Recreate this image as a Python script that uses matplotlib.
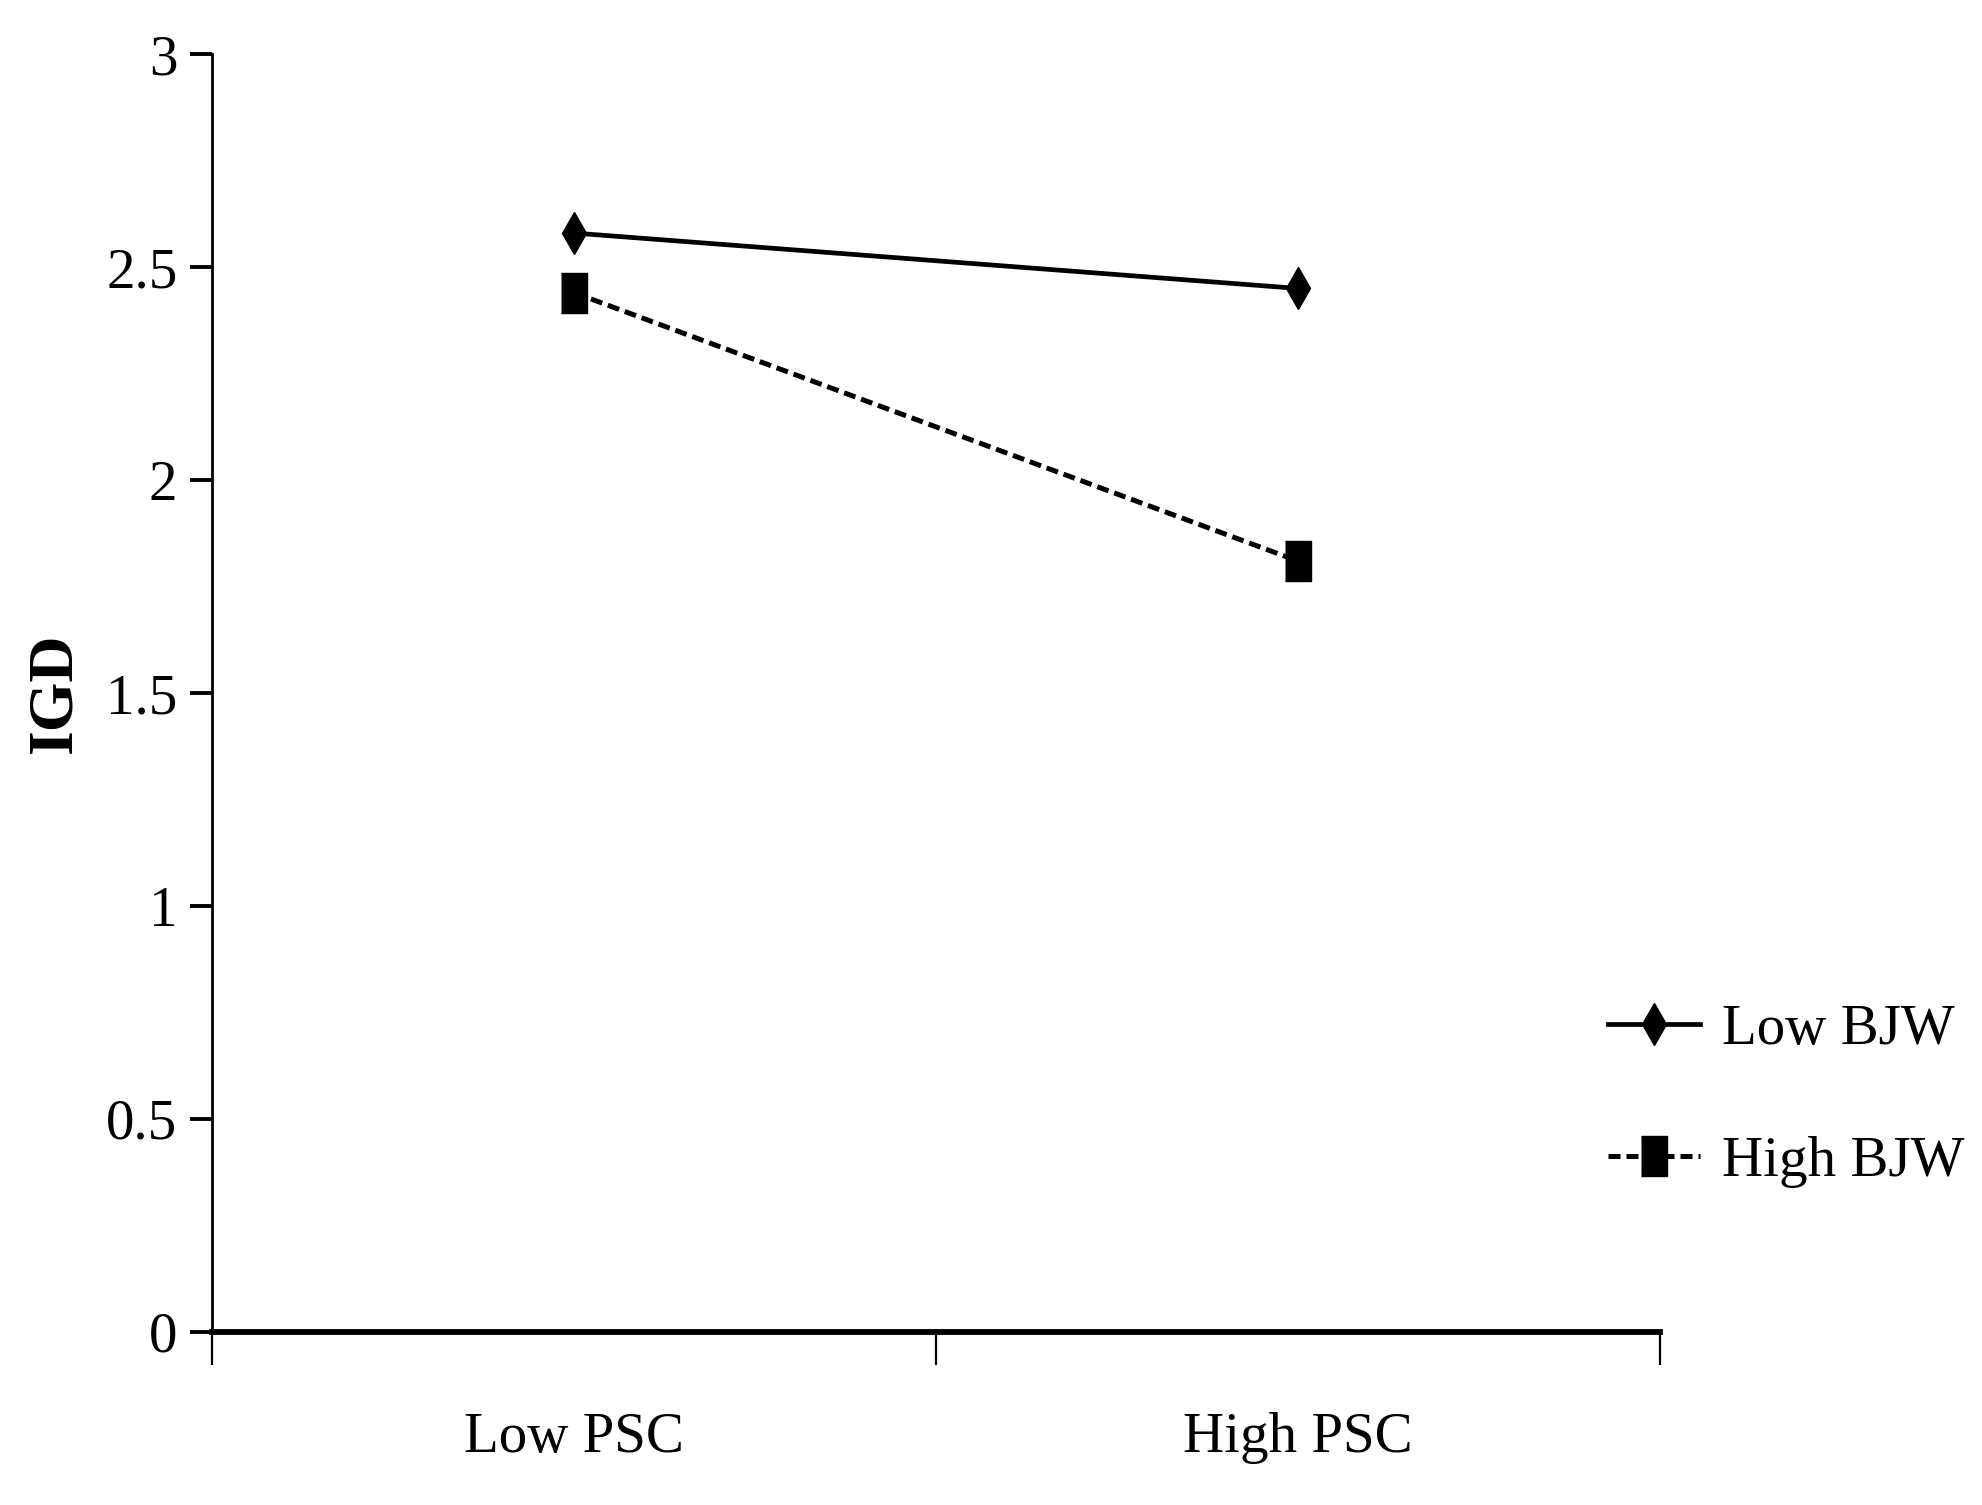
"""interaction plot: IGD by PSC for low / high BJW"""

import matplotlib
matplotlib.use("Agg")
import matplotlib.pyplot as plt
from matplotlib.ticker import FormatStrFormatter

plt.rcParams['font.family'] = ['Liberation Serif', 'DejaVu Serif']

categories = ["Low PSC", "High PSC"]
low_bjw = [2.58, 2.45]
high_bjw = [2.44, 1.81]
series_names = ["Low BJW", "High BJW"]
y_ticks = [0, 0.5, 1, 1.5, 2, 2.5, 3]

x = [1, 2]
fig = plt.figure(figsize=(19.83, 15.05), dpi=100)
ax = fig.add_axes([0.107, 0.115, 0.837 - 0.107, 0.964 - 0.115])

# marqueur rectangle un peu plus haut que large
tall_box = [(-0.33, -0.5), (0.33, -0.5), (0.33, 0.5), (-0.33, 0.5)]

ax.plot(x, low_bjw, color="black", lw=3.4, marker="d", ms=21,
        label=series_names[0])
ax.plot(x, high_bjw, color="black", lw=3.6, ls=(0, (2.4, 1.2)),
        marker=tall_box, ms=29, label=series_names[1])

ax.set_xlim(0.5, 2.5)
ax.set_ylim(0, 3)
ax.set_yticks(y_ticks)
ax.yaxis.set_major_formatter(FormatStrFormatter('%g'))
ax.set_xticks([0.5, 1.5, 2.5])
ax.set_xticklabels([])
ax.set_xticks(x, categories, minor=True)

for s in ["top", "right"]:
    ax.spines[s].set_visible(False)
ax.spines["left"].set_linewidth(2)
ax.spines["bottom"].set_linewidth(4.2)

ax.tick_params(axis="y", direction="out", length=16, width=2.8, pad=9,
               labelsize=41)
ax.tick_params(axis="x", which="major", direction="out", length=24,
               width=1.6)
ax.tick_params(axis="x", which="minor", length=0, pad=58, labelsize=41)

ax.set_ylabel("IGD", fontsize=46, fontweight="bold")
ax.yaxis.set_label_coords(-0.088, 0.5)

ax.legend(loc="center left", bbox_to_anchor=(0.811, 0.272),
          bbox_transform=fig.transFigure, frameon=False, fontsize=41,
          handlelength=1.62, handletextpad=0.38, labelspacing=1.4,
          borderpad=0, borderaxespad=0)

fig.savefig("out.png", dpi=100)
